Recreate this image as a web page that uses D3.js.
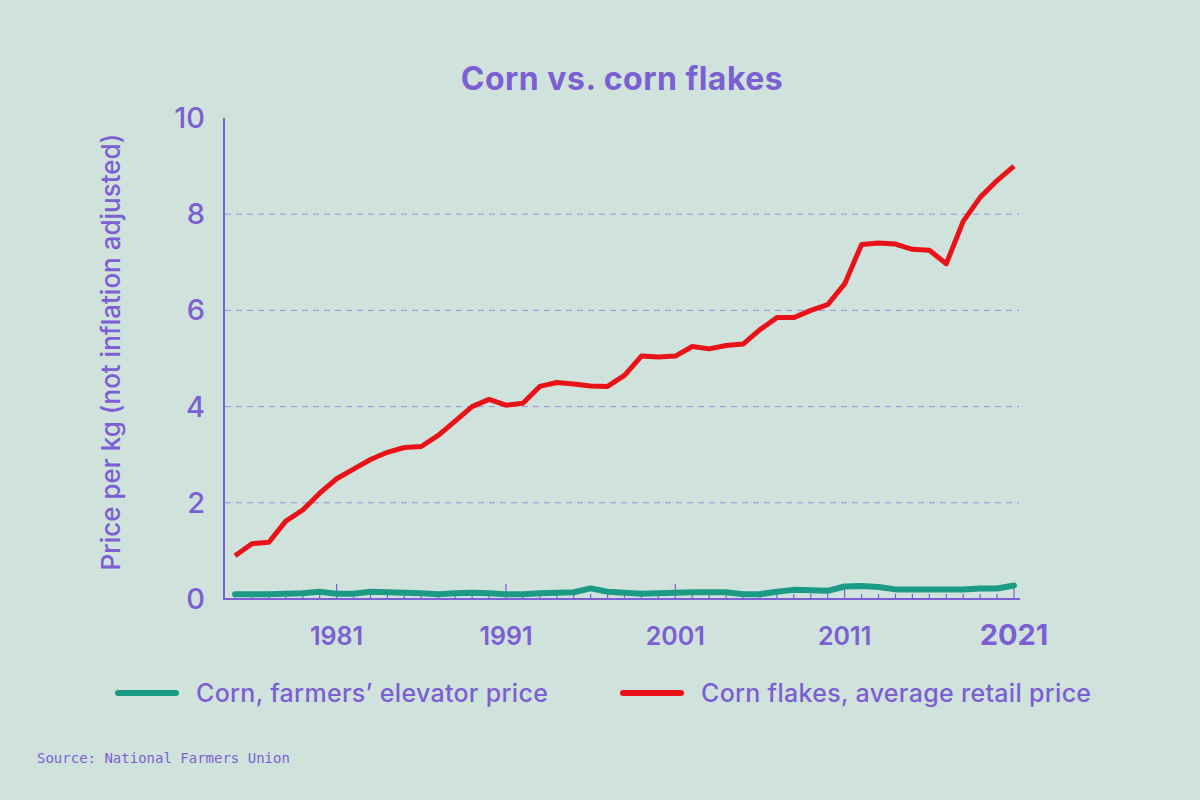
<!DOCTYPE html>
<meta charset="utf-8">
<head>
	<title> Corn vs. corn flakes </title>
	<style>
		body { margin: 0; background: #cfe3dc; }
		text { font-family: "Inter", "Lato", sans-serif; fill: #7b5fd3; }
	</style>
</head>
<body>
  <div class="container"></div>
</body>
<script src="https://cdnjs.cloudflare.com/ajax/libs/d3/7.8.5/d3.min.js"></script>
<script type="text/javascript">

	// Data
	var years = d3.range(1975, 2022);
	var flakes = [0.9, 1.15, 1.18, 1.62, 1.85, 2.2, 2.5, 2.7, 2.9, 3.05, 3.15, 3.17, 3.4, 3.7, 4.0, 4.15,
		4.03, 4.07, 4.42, 4.5, 4.47, 4.43, 4.42, 4.65, 5.05, 5.03, 5.05, 5.25, 5.2, 5.27, 5.3, 5.6,
		5.85, 5.85, 6.0, 6.12, 6.55, 7.37, 7.4, 7.38, 7.27, 7.25, 6.97, 7.85, 8.35, 8.7, 9.0];
	var corn = [0.1, 0.1, 0.1, 0.11, 0.12, 0.15, 0.11, 0.11, 0.15, 0.14, 0.13, 0.12, 0.1, 0.12, 0.13, 0.12,
		0.1, 0.1, 0.12, 0.13, 0.14, 0.22, 0.15, 0.13, 0.11, 0.12, 0.13, 0.14, 0.14, 0.14, 0.1, 0.1,
		0.15, 0.19, 0.18, 0.17, 0.26, 0.27, 0.25, 0.2, 0.2, 0.2, 0.2, 0.2, 0.22, 0.22, 0.28];
	var yTicks = [0, 2, 4, 6, 8, 10];
	var xLabels = [1981, 1991, 2001, 2011, 2021];

	var width = 1200, height = 800;
	var purple = "#7b5fd3";

	var svg = d3.select(".container").append("svg")
		.attr("width", width)
		.attr("height", height);

	var x = d3.scaleLinear().domain([1975, 2021]).range([235, 1014]);
	var y = d3.scaleLinear().domain([0, 10]).range([599, 118]);

	// title
	svg.append("text").attr("x", 622).attr("y", 90).attr("text-anchor", "middle")
		.attr("font-size", 32).attr("font-weight", 700).attr("letter-spacing", 0.5)
		.text("Corn vs. corn flakes");

	// gridlines
	svg.selectAll(".grid").data(yTicks.filter(function (d) { return d > 0 && d < 10; }))
		.enter().append("line")
		.attr("x1", 225).attr("x2", 1019)
		.attr("y1", function (d) { return y(d); }).attr("y2", function (d) { return y(d); })
		.attr("stroke", "#9f8fdc").attr("stroke-width", 1).attr("stroke-dasharray", "6,5");

	// y labels
	svg.selectAll(".ylab").data(yTicks).enter().append("text")
		.attr("x", 205).attr("y", function (d) { return y(d) + 10; })
		.attr("text-anchor", "end").attr("font-size", 29).attr("font-weight", 500)
		.text(function (d) { return d; });

	svg.append("text")
		.attr("transform", "translate(120,352) rotate(-90)")
		.attr("text-anchor", "middle").attr("font-size", 26).attr("font-weight", 500)
		.text("Price per kg (not inflation adjusted)");

	// axes lines
	svg.append("line").attr("x1", 224).attr("x2", 224).attr("y1", 118).attr("y2", 600)
		.attr("stroke", purple).attr("stroke-width", 2);
	svg.append("line").attr("x1", 223).attr("x2", 1020).attr("y1", 599).attr("y2", 599)
		.attr("stroke", purple).attr("stroke-width", 2);

	// year ticks, pointing up
	svg.selectAll(".tick").data(years).enter().append("line")
		.attr("x1", function (d) { return x(d); }).attr("x2", function (d) { return x(d); })
		.attr("y1", 599)
		.attr("y2", function (d) { return xLabels.indexOf(d) >= 0 ? 584 : 594; })
		.attr("stroke", purple).attr("stroke-width", 1.2);

	svg.selectAll(".xlab").data(xLabels).enter().append("text")
		.attr("x", function (d) { return x(d); }).attr("y", 645)
		.attr("text-anchor", "middle")
		.attr("font-size", function (d) { return d === 2021 ? 29 : 25; })
		.attr("font-weight", function (d) { return d === 2021 ? 700 : 600; })
		.text(function (d) { return d; });

	// lines
	var line = d3.line()
		.x(function (d, i) { return x(years[i]); })
		.y(function (d) { return y(d); });

	svg.append("path").datum(corn).attr("d", line)
		.attr("fill", "none").attr("stroke", "#1b9a86").attr("stroke-width", 6)
		.attr("stroke-linecap", "round").attr("stroke-linejoin", "round");
	svg.append("path").datum(flakes).attr("d", line)
		.attr("fill", "none").attr("stroke", "#ea1219").attr("stroke-width", 5)
		.attr("stroke-linejoin", "round");

	// legend
	var legend = [
		{ label: "Corn, farmers\u2019 elevator price", color: "#1b9a86", x: 118 },
		{ label: "Corn flakes, average retail price", color: "#ea1219", x: 623 }
	];
	var lg = svg.selectAll(".lg").data(legend).enter().append("g")
		.attr("transform", function (d) { return "translate(" + d.x + ",693)"; });
	lg.append("line").attr("x1", 0).attr("x2", 58).attr("y1", 0).attr("y2", 0)
		.attr("stroke", function (d) { return d.color; }).attr("stroke-width", 6)
		.attr("stroke-linecap", "round");
	lg.append("text").attr("x", 78).attr("y", 9).attr("font-size", 25).attr("font-weight", 500)
		.attr("letter-spacing", 0.3)
		.text(function (d) { return d.label; });

	svg.append("text").attr("x", 37).attr("y", 763)
		.attr("font-size", 14)
		.style("font-family", "'DejaVu Sans Mono', monospace")
		.text("Source: National Farmers Union");

</script>
</html>
